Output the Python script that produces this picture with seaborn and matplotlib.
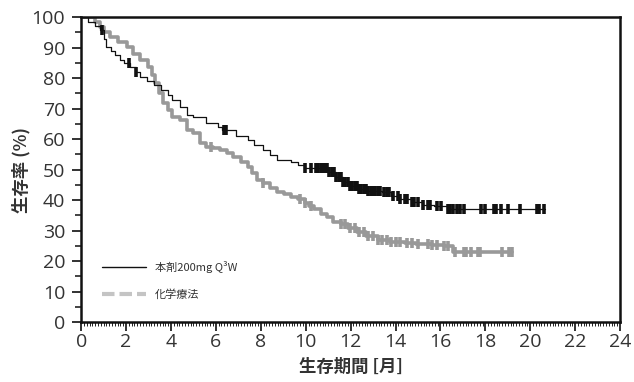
import numpy as np
import pandas as pd
import matplotlib
matplotlib.use("Agg")
import matplotlib.pyplot as plt
from matplotlib.ticker import MultipleLocator
from matplotlib.lines import Line2D
import seaborn as sns

# ---- data ----
series_names = ["本剤200mg Q³W", "化学療法"]

time_a = [0, 0.3, 0.61, 0.84, 1.02, 1.12, 1.32, 1.52, 1.73, 1.93, 2.18, 2.44, 2.64, 2.94, 3.25,
          3.55, 3.86, 4.06, 4.41, 4.72, 4.97, 5.58, 6.09, 6.29, 6.9, 7.41, 7.71, 8.12, 8.42, 8.73,
          9.34, 9.64, 9.95, 11.06, 11.37, 11.67, 11.98, 12.38, 12.79, 13.4, 13.8, 14.21, 14.72,
          15.23, 15.73, 16.29, 20.66]
surv_a = [100, 98.5, 97, 95.8, 93, 90.2, 89, 87.5, 86, 85, 83.7, 82, 80.4, 79, 77.8, 76, 74.5,
          72.9, 70.6, 68, 67.3, 65.4, 64, 63.1, 61, 59.8, 58, 56.5, 54.9, 53.3, 52.6, 51.5, 50.6,
          49.3, 47.5, 46, 44.5, 43.5, 43, 42.5, 41.5, 40.2, 39.5, 38.5, 38, 37, 37]

time_b = [0, 0.61, 0.84, 1.02, 1.29, 1.62, 2.03, 2.33, 2.64, 2.99, 3.15, 3.3, 3.45, 3.65, 3.86,
          4.06, 4.41, 4.72, 4.97, 5.28, 5.58, 5.89, 6.19, 6.5, 6.77, 7.11, 7.41, 7.61, 7.82, 8.12,
          8.42, 8.73, 9.03, 9.34, 9.64, 9.95, 10.15, 10.35, 10.66, 10.96, 11.22, 11.57, 11.88,
          12.28, 12.69, 13.2, 13.76, 14.41, 14.92, 15.63, 16.14, 16.54, 19.18]
surv_b = [100, 98.5, 96.7, 95, 93.5, 92, 90.2, 88, 86, 83.7, 81, 78.4, 75, 71.9, 69.5, 67.3, 66.3,
          63, 62, 58.8, 57.5, 57, 56.5, 55.5, 54.2, 52.5, 51, 49, 46.7, 45.7, 44, 42.5, 42, 41,
          40.2, 39.2, 37.9, 37, 35.5, 34.6, 32.7, 32, 31, 29.5, 28.1, 27, 26.1, 25.8, 25.5,
          25.2, 24.8, 22.9, 22.9]

cens_a = [0.91, 2.13, 2.44, 6.34, 6.45, 9.95, 10.25, 10.45, 10.56, 10.66, 10.76, 10.86, 10.96,
          11.06, 11.17, 11.27, 11.37, 11.47, 11.57, 11.67, 11.77, 11.88, 11.98, 12.08, 12.18,
          12.28, 12.38, 12.48, 12.59, 12.69, 12.79, 12.89, 12.99, 13.09, 13.2, 13.3, 13.5, 13.6,
          13.7, 13.91, 14.11, 14.21, 14.41, 14.51, 14.72, 14.82, 15.02, 15.23, 15.43, 15.53,
          15.83, 16.04, 16.34, 16.44, 16.54, 16.75, 16.85, 17.05, 17.81, 17.97, 18.37, 18.47,
          18.68, 19.03, 19.54, 20.3, 20.4, 20.6]
cens_b = [5.79, 8.12, 9.74, 9.95, 10.25, 11.57, 11.77, 11.98, 12.18, 12.38, 12.59, 12.79, 12.99,
          13.2, 13.4, 13.6, 13.8, 14.01, 14.21, 14.51, 14.72, 15.02, 15.43, 15.63, 15.83, 16.14,
          16.34, 16.65, 17.05, 17.15, 17.36, 17.66, 17.76, 18.73, 19.04, 19.18]

x_ticks = list(range(0, 25, 2))
y_ticks = list(range(0, 101, 10))
x_label = "生存期間 [月]"
y_label = "生存率 (%)"

# ---- build frames ----
def step_value(times, surv, t):
    idx = np.searchsorted(times, t, side="right") - 1
    return surv[max(idx, 0)]

df_a = pd.DataFrame({"t": time_a, "s": surv_a})
df_b = pd.DataFrame({"t": time_b, "s": surv_b})
cdf_a = pd.DataFrame({"t": cens_a, "s": [step_value(time_a, surv_a, t) for t in cens_a]})
cdf_b = pd.DataFrame({"t": cens_b, "s": [step_value(time_b, surv_b, t) for t in cens_b]})

sns.set_theme(style="white")
plt.rcParams["font.family"] = ["Open Sans", "Noto Sans CJK JP", "DejaVu Sans"]

fig = plt.figure(figsize=(6.34, 3.82), dpi=100)
ax = fig.add_axes([0.128, 0.157, 0.850, 0.798])

col_a = "#111111"
col_b = "#999999"

sns.lineplot(data=df_b, x="t", y="s", ax=ax, color=col_b, linewidth=2.6,
             drawstyle="steps-post", estimator=None, sort=False)
sns.lineplot(data=df_a, x="t", y="s", ax=ax, color=col_a, linewidth=0.9,
             drawstyle="steps-post", estimator=None, sort=False)
sns.scatterplot(data=cdf_b, x="t", y="s", ax=ax, marker="|", s=60, color=col_b,
                linewidth=2.6, zorder=3)
sns.scatterplot(data=cdf_a, x="t", y="s", ax=ax, marker="|", s=55, color=col_a,
                linewidth=2.6, zorder=4)

ax.set_xlim(0, 24)
ax.set_ylim(0, 100)
ax.set_xticks(x_ticks)
ax.set_yticks(y_ticks)
ax.xaxis.set_minor_locator(MultipleLocator(0.125))
ax.yaxis.set_minor_locator(MultipleLocator(5))
ax.tick_params(axis="both", which="major", direction="out", length=6.5, width=1.3,
               colors="#222222", labelsize=14, labelcolor="#333333",
               bottom=True, left=True)
ax.tick_params(axis="x", which="major", pad=1.5)
ax.tick_params(axis="y", which="major", pad=5)
ax.tick_params(axis="x", which="minor", direction="out", length=3, width=0.7,
               colors="#222222", bottom=True)
ax.tick_params(axis="y", which="minor", direction="out", length=4, width=1.2,
               colors="#222222", left=True)
for sp in ax.spines.values():
    sp.set_visible(True)
    sp.set_color("#111111")
    sp.set_linewidth(1.8)

ax.set_xlabel(x_label, fontsize=12.5, fontweight="bold", color="#333333", labelpad=5,
              family=["Noto Sans CJK JP", "DejaVu Sans"])
ax.set_ylabel(y_label, fontsize=12.5, fontweight="bold", color="#333333", labelpad=1,
              family=["Noto Sans CJK JP", "DejaVu Sans"])

handles = [Line2D([0], [0], color=col_a, linewidth=1.0),
           Line2D([0], [0], color="#c4c4c4", linewidth=3.0, linestyle=(0, (3, 1.2)))]
leg = ax.legend(handles, series_names, loc="lower left", bbox_to_anchor=(0.02, 0.04),
                frameon=False, handlelength=4.0, labelspacing=1.45, handletextpad=0.8,
                prop={"family": ["Noto Sans CJK JP", "DejaVu Sans"], "size": 8})
for txt in leg.get_texts():
    txt.set_color("#333333")

fig.savefig("out.png", dpi=100)
